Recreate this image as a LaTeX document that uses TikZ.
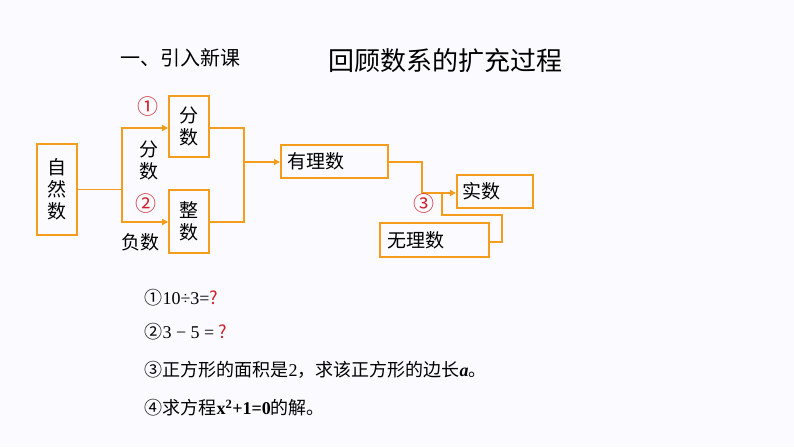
\documentclass[tikz,border=0pt]{standalone}
\usepackage{fontspec}
\setmainfont{Noto Sans CJK SC}
\newfontfamily\ser{Liberation Serif}
\newfontfamily\cjk{Noto Sans CJK SC}
\usetikzlibrary{arrows.meta}
\definecolor{org}{HTML}{F39C1E}
\definecolor{rd}{HTML}{D0202A}
\tikzset{box/.style={draw=org,line width=1.6pt,inner sep=0pt,font=\fontsize{19}{22}\selectfont},
 ln/.style={draw=org,line width=1.6pt},
 ar/.style={draw=org,line width=1.6pt,-{Triangle[length=6pt,width=6pt]},fill=none},
 lbl/.style={font=\fontsize{19}{22}\selectfont},
 num/.style={text=rd,font=\cjk\fontsize{21}{24}\selectfont},
 txt/.style={anchor=west,font=\fontsize{18}{22}\selectfont}}
\begin{document}
\begin{tikzpicture}[x=1pt,y=-1pt]
\fill[white!96!blue!40] (0,0) rectangle (794,447);
\node[font=\fontsize{20}{22}\selectfont] (t1) at (180,58) {一、引入新课};
\node[font=\fontsize{26}{28}\selectfont] (t2) at (445,61) {回顾数系的扩充过程};
\node[box,minimum width=40pt,minimum height=91pt,align=center] (zr) at (57,189.5) {自\\然\\数};
\node[box,minimum width=40pt,minimum height=61pt,align=center] (fs) at (189,126.5) {分\\数};
\node[box,minimum width=40pt,minimum height=63pt,align=center] (zs) at (189,221.5) {整\\数};
\node[box,minimum width=107pt,minimum height=33pt,anchor=west,text width=100pt,align=left] (yl) at (280,161.5) {\,有理数};
\node[box,minimum width=76pt,minimum height=33pt,anchor=west,text width=70pt,align=left] (ss) at (456,191.5) {\,实数};
\node[box,minimum width=109pt,minimum height=34pt,anchor=west,text width=100pt,align=left] (wl) at (379,240) {\,无理数};
\coordinate (j) at (122,189.5);
\draw[ln] (zr.east |- j) -- (j);
\draw[ar] (j) |- (fs.west |- 0,128);
\draw[ar] (j) |- (zs.west |- 0,222);
\coordinate (k) at (244,162);
\draw[ln] (fs.east |- 0,128) -| (k);
\draw[ln] (zs.east |- 0,222) -| (k);
\draw[ar] (k) -- (yl.west |- k);
\coordinate (m) at (422,193);
\draw[ln] (yl.east |- 0,162) -| (m);
\draw[ar] (m) -- (ss.west |- m);
\draw[ln] (wl.east |- 0,242) -- (502,242) |- (442,215) -- (442,193);
\node[num] (n1) at (148,107) {①};
\node[num] (n2) at (146,204) {②};
\node[num] (n3) at (424,204) {③};
\node[lbl,align=center] (fsl) at (149,160) {分\\数};
\node[lbl] (fu) at (140,242) {负数};
\node[txt] (a1) at (141,298) {①{\ser 10÷3=}\textcolor{rd}{?}};
\node[txt] (a2) at (141,332) {②{\ser 3 − 5 = }\textcolor{rd}{?}};
\node[txt] (a3) at (141,370) {③正方形的面积是{\ser 2}，求该正方形的边长{\ser\bfseries\itshape a}。};
\node[txt] (a4) at (141,408) {④求方程{\ser\bfseries x\textsuperscript{2}+1=0}的解。};
\end{tikzpicture}
\end{document}
